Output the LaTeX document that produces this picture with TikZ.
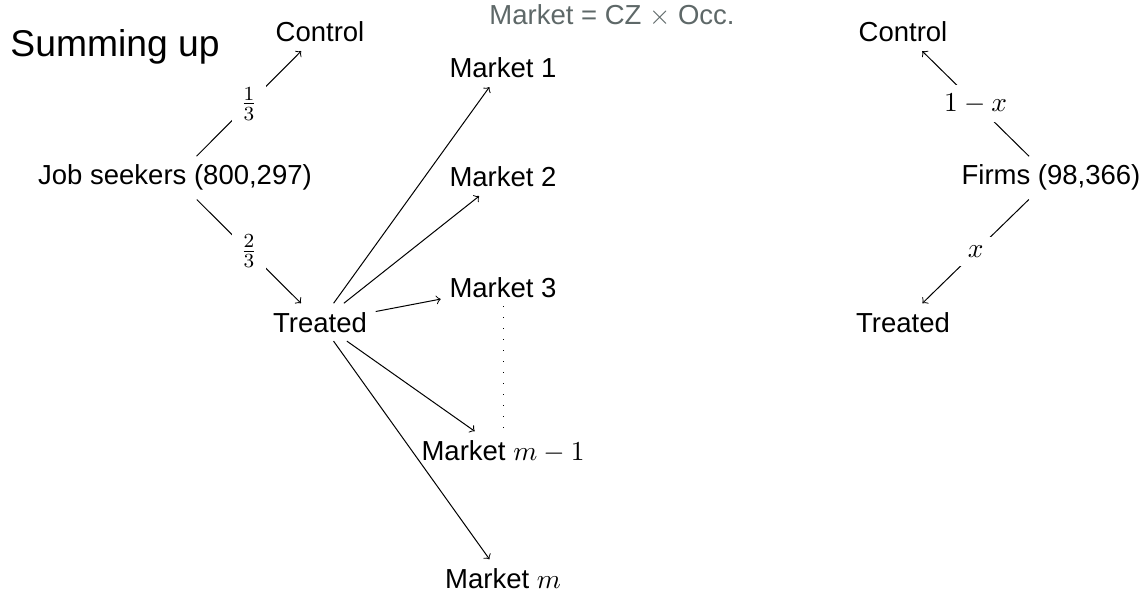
\documentclass[tikz,border=0pt]{standalone}
\usepackage{fontspec}
\setmainfont{Liberation Sans}
\definecolor{titlegray}{RGB}{94,104,104}
\begin{document}
\begin{tikzpicture}[x=0.4pt,y=-0.4pt,
  every node/.style={font=\fontsize{11}{13}\selectfont},
  box/.style={anchor=base},
  lbl/.style={fill=white,midway},
  conn/.style={draw,line width=0.4pt},
  arr/.style={conn,->}]
\useasboundingbox (0,0) rectangle (1143,592);
\node[anchor=base west,inner sep=0,font=\fontsize{14.9}{17}\selectfont] (title) at (10,57) {Summing up};
\node[anchor=base,text=titlegray] (def) at (612,25) {Market = CZ $\times$ Occ.};
% left tree
\node[box] (ctrlL) at (320,42) {Control};
\node[box] (js) at (175,185) {Job seekers (800,297)};
\node[box] (trL) at (320,332) {Treated};
\node[box] (m1) at (503,78) {Market 1};
\node[box] (m2) at (503,187) {Market 2};
\node[box] (m3) at (503,297) {Market 3};
\node[box] (mm1) at (503,460) {Market $m-1$};
\node[box] (mm) at (503,588) {Market $m$};
\draw[arr] (js) -- node[lbl] {$\frac{1}{3}$} (ctrlL);
\draw[arr] (js) -- node[lbl] {$\frac{2}{3}$} (trL);
\draw[arr] (trL) -- (m1);
\draw[arr] (trL) -- (m2);
\draw[arr] (trL) -- (m3);
\draw[arr] (trL) -- (mm1);
\draw[arr] (trL) -- (mm);
\draw[loosely dotted] (m3) -- (mm1);
% right tree
\node[box] (ctrlR) at (903,42) {Control};
\node[box] (firms) at (1051,185) {Firms (98,366)};
\node[box] (trR) at (903,332) {Treated};
\draw[arr] (firms) -- node[lbl] {$1-x$} (ctrlR);
\draw[arr] (firms) -- node[lbl] {$x$} (trR);
\end{tikzpicture}
\end{document}
